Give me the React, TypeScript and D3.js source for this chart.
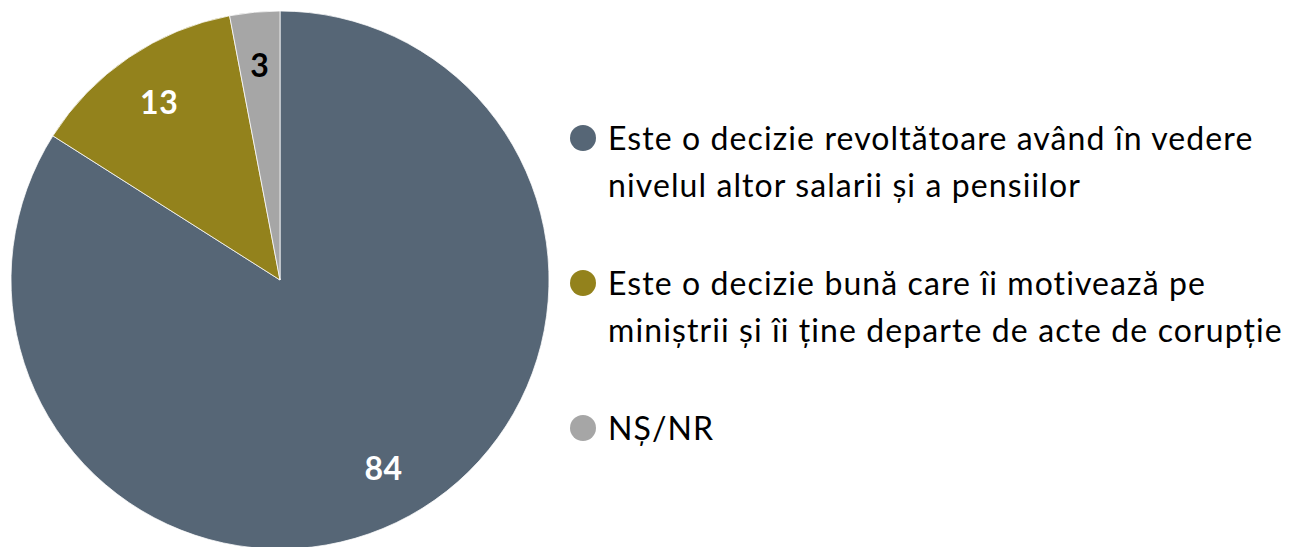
import React from "react";
import * as d3 from "d3";

const categories = [
  "Este o decizie revoltătoare având în vedere|nivelul altor salarii și a pensiilor",
  "Este o decizie bună care îi motivează pe|miniștrii și îi ține departe de acte de corupție",
  "NȘ/NR",
];
const values = [84, 13, 3];
const colors = ["#566676", "#93821C", "#A6A6A6"];
const labelColors = ["#FFFFFF", "#FFFFFF", "#000000"];

export default function App() {
  const W = 1293, H = 547;
  const cx = 280, cy = 280, r = 269;
  const pie = d3.pie<number>().sort(null).value((d) => d);
  const arcs = pie(values);
  const arc = d3.arc<d3.PieArcDatum<number>>().innerRadius(0).outerRadius(r);
  const labelArc = d3.arc<d3.PieArcDatum<number>>().innerRadius(215).outerRadius(215);
  const legendY = [138, 283, 428];
  return (
    <svg width={W} height={H} style={{ position: "absolute", left: 0, top: 0 }}>
      <g transform={`translate(${cx},${cy})`}>
        {arcs.map((a, i) => (
          <path key={i} d={arc(a) || ""} fill={colors[i]} stroke="#fff" strokeWidth={0.75} />
        ))}
        {arcs.map((a, i) => {
          const [x, y] = labelArc.centroid(a);
          return (
            <text key={i} x={x} y={y} dy="0.36em" textAnchor="middle" fill={labelColors[i]}
              fontFamily="Lato, sans-serif" fontWeight="bold" fontSize={32} letterSpacing={0.5}>
              {values[i]}
            </text>
          );
        })}
      </g>
      {categories.map((c, i) => {
        const lines = c.split("|");
        return (
          <g key={i}>
            <circle cx={583} cy={legendY[i]} r={13} fill={colors[i]} />
            {lines.map((l, j) => (
              <text key={j} x={608} y={legendY[i] + 12 + j * 47} fontFamily="Lato, sans-serif" fontSize={32}
                letterSpacing={1.1} fill="#000">
                {l}
              </text>
            ))}
          </g>
        );
      })}
    </svg>
  );
}
